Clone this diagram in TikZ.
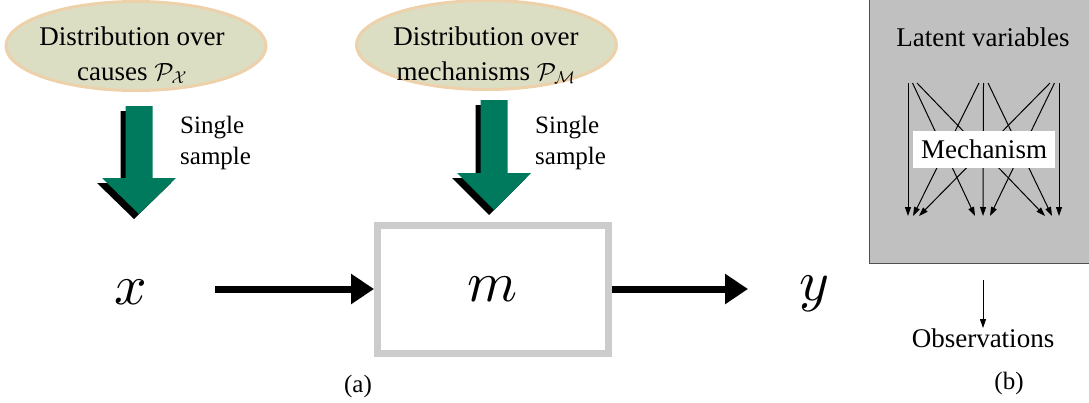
\documentclass[tikz,border=0pt]{standalone}
\usepackage{fontspec}
\setmainfont{Liberation Serif}
\usetikzlibrary{arrows.meta,shapes.geometric}
\definecolor{ellfill}{RGB}{220,222,196}
\definecolor{elldraw}{RGB}{237,209,170}
\definecolor{sgreen}{RGB}{0,122,92}
\definecolor{boxgray}{RGB}{204,204,204}
\definecolor{panelgray}{RGB}{192,192,192}
\definecolor{paneldraw}{RGB}{80,80,80}
\begin{document}
\begin{tikzpicture}[x=1pt,y=-1pt,
  ell/.style={ellipse, fill=ellfill, draw=elldraw, line width=3pt, inner sep=0pt, minimum width=260pt, minimum height=89pt},
  txt/.style={font=\fontsize{27}{35}\selectfont, align=center, inner sep=0pt},
  smalltxt/.style={font=\fontsize{25}{31}\selectfont, align=left, inner sep=0pt},
  captxt/.style={font=\fontsize{25}{30}\selectfont, inner sep=0pt},
  mathtxt/.style={font=\fontsize{10}{12}\selectfont, inner sep=0pt, scale=5.7},
  bigarrow/.style={line width=7pt, -{Triangle[length=23pt,width=29pt]}},
  netarrow/.style={line width=1pt, -{Triangle[length=9pt,width=6pt]}},
  blockarrow/.style={fill=sgreen},
  blockshadow/.style={fill=black},
]
\useasboundingbox (0,0) rectangle (1089,402);

% ---------- (a) ----------
\node[ell] (e1) at (136,46) {};
\node[txt] (e1t) at (132,55) {Distribution over\\causes $\mathcal{P}_{\mathcal{X}}$};
\node[ell] (e2) at (486.5,45) {};
\node[txt] (e2t) at (486,55) {Distribution over\\mechanisms $\mathcal{P}_{\mathcal{M}}$};

% block arrows with shadow
\fill[blockshadow,shift={(-5,5)}] (125.5,106) -- (152.5,106) -- (152.5,178) -- (176,178) -- (139,214) -- (102,178) -- (125.5,178) -- cycle;
\fill[blockarrow] (125.5,106) -- (152.5,106) -- (152.5,178) -- (176,178) -- (139,214) -- (102,178) -- (125.5,178) -- cycle;
\fill[blockshadow,shift={(-5,5)}] (480.5,100) -- (507.5,100) -- (507.5,173) -- (531,173) -- (494,210) -- (457,173) -- (480.5,173) -- cycle;
\fill[blockarrow] (480.5,100) -- (507.5,100) -- (507.5,173) -- (531,173) -- (494,210) -- (457,173) -- (480.5,173) -- cycle;

\node[smalltxt, anchor=west] (s1) at (180,143) {Single\\sample};
\node[smalltxt, anchor=west] (s2) at (535,143) {Single\\sample};

\node[mathtxt] (x) at (131,292) {$x$};
\node[draw=boxgray, line width=7pt, minimum width=231pt, minimum height=128pt, inner sep=0pt] (m) at (493,289.5) {};
\node[mathtxt] (mt) at (m.center) {$m$};
\node[mathtxt] (y) at (814,294) {$y$};

\coordinate (xs) at (215,289);
\coordinate (ye) at (748,289);
\draw[bigarrow] (xs) -- (m.west |- xs);
\draw[bigarrow] (m.east |- ye) -- (ye);

\node[captxt, anchor=base] (capa) at (358,392) {(a)};

% ---------- (b) ----------
\node[fill=panelgray, draw=paneldraw, line width=1.2pt, anchor=north west, minimum width=230pt, minimum height=269pt, inner sep=0pt] (panel) at (869,-6) {};
\node[txt, anchor=base] (lat) at (983,46) {Latent variables};

\foreach \n/\xx in {1/908,2/912.5,3/917,4/979,5/983.5,6/988,7/1050,8/1054.5,9/1059}
  \coordinate (s\n) at (\xx,83);
\foreach \n/\xx in {1/908,2/913,3/919,4/975,5/983,6/990,7/1045,8/1052,9/1059}
  \coordinate (t\n) at (\xx,216);
\foreach \a/\b in {1/1,2/4,3/7,4/2,5/5,6/8,7/3,8/6,9/9}
  \draw[netarrow] (s\a) -- (t\b);

\node[fill=white, minimum width=142pt, minimum height=37pt, inner sep=0pt, font=\fontsize{27}{35}\selectfont] (mech) at (984,149.5) {Mechanism};

\coordinate (ot) at (983,280);
\node[txt, anchor=base] (obs) at (983,347) {Observations};
\draw[netarrow] (ot) -- (obs.north);

\node[captxt, anchor=base] (capb) at (1009,389) {(b)};
\end{tikzpicture}
\end{document}
